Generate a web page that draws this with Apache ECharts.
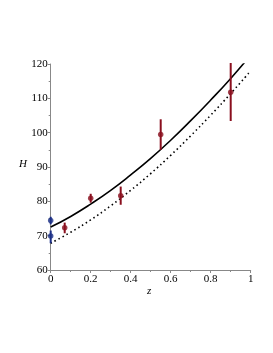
<!DOCTYPE html>
<html><head><meta charset="utf-8">
<script src="https://cdn.jsdelivr.net/npm/echarts@6/dist/echarts.min.js"></script>
<style>html,body{margin:0;padding:0;background:#fff}#c{width:273px;height:353px}</style>
</head><body><div id="c"></div>
<script>
// Model curves
var curveZ = [0, 0.1, 0.2, 0.3, 0.4, 0.5, 0.6, 0.7, 0.8, 0.9, 1.0];
var solidH = [72.5, 75.6, 79.2, 83.2, 87.7, 92.5, 97.8, 103.5, 109.5, 115.8, 122.6];
var dottedH = [67.8, 71.0, 74.6, 78.7, 83.2, 88.1, 93.4, 99.1, 105.1, 111.4, 118.0];
// Red data points with error bars
var redZ = [0.07, 0.2, 0.35, 0.55, 0.9];
var redH = [72.3, 80.9, 81.6, 99.5, 111.8];
var redLo = [70.7, 79.6, 79.0, 95.0, 103.4];
var redHi = [73.8, 82.2, 84.3, 103.9, 120.3];
// Blue data points at z=0
var blueZ = [0, 0];
var blueH = [74.4, 69.9];
var blueLo = [73.3, 67.8];
var blueHi = [75.5, 71.5];

var RED = '#8a0f1e', BLUE = '#1c2f86';
function pairs(xs, ys){ return xs.map(function(x,i){return [x, ys[i]];}); }
function errData(xs, lo, hi){ return xs.map(function(x,i){return [x, lo[i], hi[i]];}); }
function errSeries(data, color){
  return {
    type: 'custom', data: data, z: 5, clip: false,
    renderItem: function(params, api){
      var p1 = api.coord([api.value(0), api.value(1)]);
      var p2 = api.coord([api.value(0), api.value(2)]);
      return {type:'line', shape:{x1:p1[0],y1:p1[1],x2:p2[0],y2:p2[1]}, style:{stroke:color, lineWidth:2}};
    }
  };
}
var chart = echarts.init(document.getElementById('c'), null, {renderer:'canvas'});
var font = '"Liberation Serif", "DejaVu Serif", serif';
chart.setOption({
  animation: false,
  backgroundColor: '#fff',
  grid: {left: 50.7, right: 22.3, top: 64, bottom: 83},
  xAxis: {
    type: 'value', min: 0, max: 1, interval: 0.2,
    axisLine: {onZero: false, lineStyle: {color: '#888', width: 1}},
    axisTick: {show: true, length: 3, inside: false, lineStyle: {color: '#888'}},
    minorTick: {show: true, splitNumber: 2, length: 2, lineStyle: {color: '#888'}},
    splitLine: {show: false},
    axisLabel: {color: '#000', fontFamily: font, fontSize: 11, margin: 4,
      formatter: function(v){ return v === 0 ? '0' : (v === 1 ? '1' : String(v)); }}
  },
  yAxis: {
    type: 'value', min: 60, max: 120, interval: 10,
    axisLine: {show: true, onZero: false, lineStyle: {color: '#888', width: 1}},
    axisTick: {show: true, length: 3, inside: false, lineStyle: {color: '#888'}},
    minorTick: {show: true, splitNumber: 2, length: 2, lineStyle: {color: '#888'}},
    splitLine: {show: false},
    axisLabel: {color: '#000', fontFamily: font, fontSize: 11, margin: 3}
  },
  graphic: [
    {type:'text', left: 19, top: 159, style:{text:'H', font:'italic 11px ' + font, fill:'#000'}},
    {type:'text', left: 147, top: 286, style:{text:'z', font:'italic 11px ' + font, fill:'#000'}}
  ],
  series: [
    {type:'line', data: pairs(curveZ, solidH), smooth: true, showSymbol: false,
      lineStyle:{color:'#000', width:1.6}, z: 3},
    {type:'line', data: pairs(curveZ, dottedH), smooth: true, showSymbol: false,
      lineStyle:{color:'#000', width:1.6, type:[1.5, 3]}, z: 3},
    errSeries(errData(redZ, redLo, redHi), RED),
    errSeries(errData(blueZ, blueLo, blueHi), BLUE),
    {type:'scatter', data: pairs(redZ, redH), symbol:'circle', symbolSize: 5.5,
      itemStyle:{color: RED}, z: 6, clip: false},
    {type:'scatter', data: pairs(blueZ, blueH), symbol:'circle', symbolSize: 5.5,
      itemStyle:{color: BLUE}, z: 6, clip: false}
  ]
});
</script></body></html>
